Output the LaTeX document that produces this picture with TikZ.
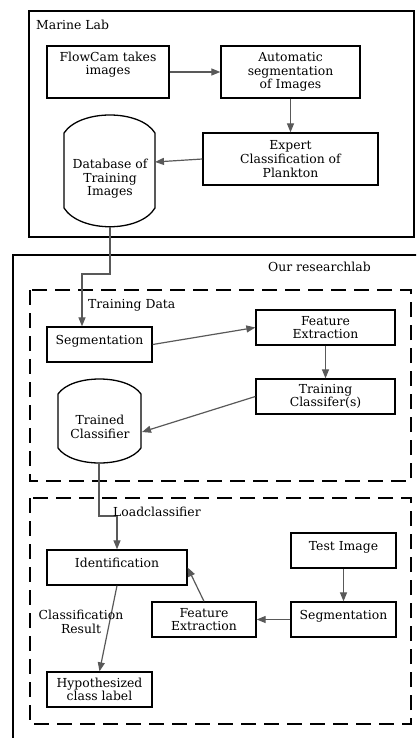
\documentclass[tikz,border=0pt]{standalone}
\usepackage{fontspec}
\setmainfont{DejaVu Serif}
\usetikzlibrary{arrows.meta,calc}

\begin{document}
\begin{tikzpicture}[x=1pt,y=-1pt,
  font=\fontsize{12.4}{13.6}\selectfont,
  box/.style={draw=black,line width=1.3pt,rectangle,align=center,inner sep=2pt},
  lift/.style={text depth=10pt},
  conn/.style={draw=black!65,line width=1.2pt,-{Triangle[length=9pt,width=7pt]}},
  wire/.style={draw=black!65,line width=1.2pt},
  frame/.style={draw=black,line width=1.3pt},
  dframe/.style={draw=black,line width=1.3pt,dash pattern=on 15pt off 8pt},
  shell/.style={draw=black,line width=1.3pt},
  lbl/.style={inner sep=0pt,anchor=west}]

\useasboundingbox (0,0) rectangle (416,738);
\clip (0,0) rectangle (416,738);

% ---------------- Marine Lab ----------------
\draw[frame] (29,11) rectangle (414,237);
\node[lbl] (marine) at (36,25) {Marine Lab};

\node[box,minimum width=122pt,minimum height=52pt] (flow) at (108,72)
  {FlowCam takes\\images\\\strut};
\node[box,minimum width=139pt,minimum height=52pt] (autoseg) at (290.5,72)
  {Automatic\\segmentation\\of Images};
\node[box,minimum width=175pt,minimum height=52pt] (expert) at (290.5,159)
  {Expert\\Classification of\\Plankton};

% database drum: text node plus hand-drawn outline
\node[align=center,inner sep=0pt] (db) at (110,179) {Database of\\Training\\Images};
\draw[shell]
  ($(db)+(-46,-46)$) .. controls ($(db)+(-30,-70)$) and ($(db)+(30,-70)$) .. ($(db)+(45,-46)$)
  -- ($(db)+(45,29)$)
  .. controls ($(db)+(30,54)$) and ($(db)+(-30,54)$) .. ($(db)+(-46,29)$) -- cycle;
\coordinate (dbbot) at ($(db)+(0,48)$);
\coordinate (dbin) at ($(db)+(45,-17)$);

\draw[conn] (flow.east) -- (autoseg.west);
\draw[conn] (autoseg.south) -- (expert.north);
\draw[conn] (expert.west) -- (dbin);

% ---------------- Research lab ----------------
\draw[frame] (13,255) rectangle (440,760);
\node[lbl] (ours) at (268,267) {Our researchlab};

\draw[dframe] (30,290) rectangle (411,481);
\draw[dframe] (30,498) rectangle (411,724);

% training stage
\node[box,lift,minimum width=105pt,minimum height=35pt] (seg) at (99.5,344.5) {Segmentation};
\node[box,minimum width=139pt,minimum height=35pt] (feat) at (325.5,327.5) {Feature\\Extraction};
\node[box,minimum width=139pt,minimum height=35pt] (train) at (325.5,396.5) {Training\\Classifer(s)};

\node[align=center,inner sep=0pt] (tc) at (100,427) {Trained\\Classifier};
\draw[shell]
  ($(tc)+(-42,-33)$) .. controls ($(tc)+(-28,-53)$) and ($(tc)+(27,-53)$) .. ($(tc)+(41,-33)$)
  -- ($(tc)+(41,21)$)
  .. controls ($(tc)+(27,41)$) and ($(tc)+(-28,41)$) .. ($(tc)+(-42,21)$) -- cycle;
\coordinate (tcbot) at ($(tc)+(-1,36)$);
\coordinate (tcin) at ($(tc)+(42,5)$);

\coordinate (segin) at ($(seg.north)+(-17.5,0)$);
\draw[conn] (dbbot) |- (110,274) -| (segin);
\node[lbl] (trdata) at (88,305) {Training Data};

\draw[conn] (seg.east) -- (feat.west);
\draw[conn] (feat.south) -- (train.north);
\draw[conn] (train.west) -- (tcin);

% identification stage
\node[box,lift,minimum width=140pt,minimum height=35pt] (ident) at (117,567.5) {Identification};
\node[box,lift,minimum width=105pt,minimum height=35pt] (test) at (343.5,550.5) {Test Image};
\node[box,lift,minimum width=105pt,minimum height=35pt] (seg2) at (343.5,619.5) {Segmentation};
\node[box,minimum width=104pt,minimum height=35pt] (feat2) at (204,619.5) {Feature\\Extraction};
\node[box,minimum width=105pt,minimum height=35pt] (hyp) at (99.5,689.5) {Hypothesized\\class label};

\draw[conn] (tcbot) |- (117,516) -- (ident.north);
\node[lbl] (load) at (113,512) {Loadclassifier};

\draw[conn] (test.south) -- (seg2.north);
\draw[conn] (seg2.west) -- (feat2.east);
\draw[conn] (feat2.north) -- (ident.east);
\draw[conn] (ident.south) -- (hyp.north);
\node[align=center,inner sep=0pt] (res) at (81,622) {Classification\\Result};

\end{tikzpicture}
\end{document}
